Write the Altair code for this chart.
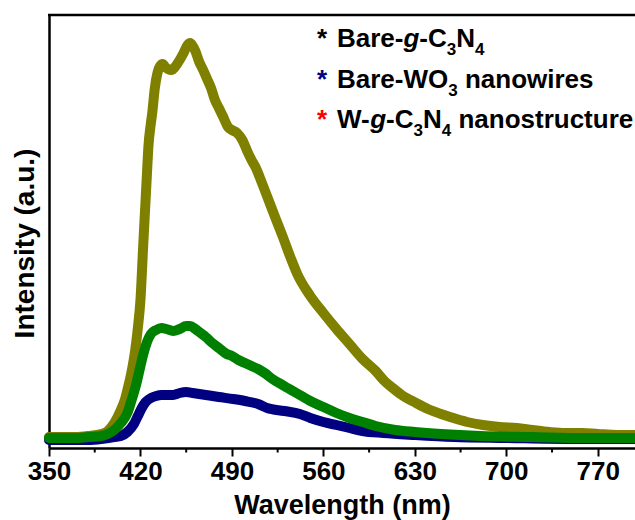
import altair as alt
import pandas as pd

# ---- data (arbitrary intensity units) ----
olive_nm = [350, 360, 370, 380, 390, 395, 400, 405, 408, 410, 413, 416, 418, 420, 422, 424, 425,
            426, 428, 429, 431, 433, 435, 437, 439, 441, 444, 447, 450, 453, 456, 458, 460, 462,
            465, 468, 471, 474, 477, 480, 483, 487, 490, 494, 498, 502, 505, 508, 513, 518, 523,
            529, 535, 540, 550, 560, 570, 580, 590, 600, 606, 615, 620, 631, 640, 650, 657, 670,
            682, 695, 708, 720, 733, 745, 758, 770, 785, 800]
olive_val = [11, 11, 11, 12, 14, 17, 25, 38, 48, 58, 75, 98, 120, 148, 200, 250, 275,
             300, 325, 335, 360, 375, 382, 384, 381, 379, 378, 382, 388, 395, 403, 405, 402, 397,
             386, 378, 369, 360, 348, 340, 332, 321, 318, 315, 308, 296, 288, 281, 265, 248, 231,
             211, 190, 174, 152, 135, 119, 104, 89, 77, 68, 58, 53, 45, 39, 34, 31, 26,
             23, 21, 20, 18, 16, 15, 15, 14, 13, 13]

navy_nm = [350, 360, 370, 380, 390, 400, 405, 410, 415, 418, 421, 424, 428, 432, 436, 440, 445,
           450, 455, 460, 470, 480, 491, 500, 510, 517, 530, 542, 550, 560, 570, 580, 590, 606,
           630, 660, 700, 750, 800]
navy_val = [8, 8, 8, 8, 9, 11, 12, 16, 24, 32, 40, 46, 50, 52, 53, 53, 53,
            55, 56, 55, 53, 51, 49, 47, 44, 40, 37, 34, 30, 26, 23, 20, 17, 15,
            13, 11, 10, 9, 9]

green_nm = [350, 360, 370, 380, 390, 395, 400, 405, 410, 413, 417, 420, 422, 425, 428, 432, 436,
            440, 445, 450, 455, 458, 462, 466, 470, 475, 480, 486, 490, 495, 500, 505, 510, 515,
            521, 530, 542, 550, 560, 570, 580, 590, 600, 615, 630, 650, 680, 720, 760, 800]
green_val = [10, 10, 10, 11, 12, 14, 18, 25, 35, 47, 65, 82, 93, 106, 114, 118, 120,
             119, 117, 119, 122, 122, 119, 115, 111, 105, 100, 94, 92, 88, 85, 82, 79, 75,
             69, 62, 53, 47, 41, 35, 30, 26, 22, 18, 16, 14, 12, 11, 10, 10]

series_names = ["Bare-g-C3N4", "Bare-WO3 nanowires", "W-g-C3N4 nanostructure"]
series_colors = ["#808000", "#000080", "#008000"]
x_ticks = [350, 420, 490, 560, 630, 700, 770]
x_minor = [385, 455, 525, 595, 665, 735]

FONT = "Liberation Sans"
W, H = 586, 433

xscale = alt.Scale(domain=[350, 798.5], nice=False, zero=False)
yscale = alt.Scale(domain=[0, 433], nice=False, zero=False)

XAX = alt.Axis(values=x_ticks, title="Wavelength (nm)", grid=False,
               labelFont=FONT, labelFontSize=26, labelFontWeight="bold", labelColor="black",
               titleFont=FONT, titleFontSize=27, titleFontWeight="bold", titleColor="black",
               tickSize=8, tickWidth=2, tickColor="black", domainColor="black", domainWidth=2.5,
               labelPadding=2, titlePadding=8, labelFlush=False, labelOverlap=False)
YAX = alt.Axis(labels=False, ticks=False, grid=False, title="Intensity (a.u.)",
               titleFont=FONT, titleFontSize=28, titleFontWeight="bold", titleColor="black",
               domainColor="black", domainWidth=2.5, titlePadding=10, titleY=228)


def make_df(nm, val, name):
    return pd.DataFrame({"wl": nm, "val": val, "series": name})


def line_layer(df, color):
    return alt.Chart(df).mark_line(
        color=color, strokeWidth=10, interpolate="monotone", strokeCap="round", strokeJoin="round"
    ).encode(
        x=alt.X("wl:Q", scale=xscale, axis=XAX),
        y=alt.Y("val:Q", scale=yscale, axis=YAX),
    )


layers = [
    line_layer(make_df(olive_nm, olive_val, series_names[0]), series_colors[0]),
    line_layer(make_df(navy_nm, navy_val, series_names[1]), series_colors[1]),
    line_layer(make_df(green_nm, green_val, series_names[2]), series_colors[2]),
]

# minor ticks on the x axis
minor = alt.Chart(pd.DataFrame({"wl": x_minor})).mark_rule(color="black", strokeWidth=2).encode(
    x=alt.X("wl:Q", scale=xscale, axis=XAX), y=alt.value(H), y2=alt.value(H + 4.5))
layers.append(minor)

# top frame line
dummy = pd.DataFrame({"a": [0]})
top = alt.Chart(dummy).mark_rule(color="black", strokeWidth=2.5).encode(
    x=alt.value(-1), x2=alt.value(W + 2), y=alt.value(0))
layers.append(top)

# ---- legend built from text segments (sub/italic styling) ----
AW = {" ": 278, "*": 389, "-": 333, "3": 556, "4": 556, "B": 722, "C": 722, "N": 722, "O": 778,
      "W": 944, "a": 556, "c": 556, "e": 556, "g": 611, "i": 278, "n": 611, "o": 611, "r": 389,
      "s": 556, "t": 333, "u": 611, "w": 778}
MAIN, SUB = 26, 17
legend_lines = [
    [("Bare-", "n"), ("g", "i"), ("-C", "n"), ("3", "s"), ("N", "n"), ("4", "s")],
    [("Bare-WO", "n"), ("3", "s"), (" nanowires", "n")],
    [("W-", "n"), ("g", "i"), ("-C", "n"), ("3", "s"), ("N", "n"), ("4", "s"), (" nanostructure", "n")],
]
star_colors = ["black", "#000080", "red"]
x0_star, x0_text = 317 - 49, 337 - 49
baselines = [47 - 15, 88 - 15, 128 - 15]

for li, segs in enumerate(legend_lines):
    by = baselines[li]
    layers.append(alt.Chart(dummy).mark_text(
        text="*", font=FONT, fontSize=MAIN, fontWeight="bold", color=star_colors[li],
        align="left", baseline="alphabetic").encode(x=alt.value(x0_star), y=alt.value(by)))
    cx = x0_text
    for txt, sty in segs:
        size = SUB if sty == "s" else MAIN
        yy = by + 8 if sty == "s" else by
        lead = len(txt) - len(txt.lstrip(" "))
        cx += lead * AW[" "] * size / 1000.0
        shown = txt.strip(" ")
        layers.append(alt.Chart(dummy).mark_text(
            text=shown, font=FONT, fontSize=size, fontWeight="bold",
            fontStyle="italic" if sty == "i" else "normal", color="black",
            align="left", baseline="alphabetic").encode(x=alt.value(cx), y=alt.value(yy)))
        cx += sum(AW.get(ch, 556) for ch in shown) * size / 1000.0

chart = alt.layer(*layers).properties(
    width=W, height=H,
    autosize=alt.AutoSizeParams(type="none"),
    padding={"left": 49, "top": 15, "right": 0, "bottom": 72},
).configure_view(stroke=None).configure(background="white")

chart.save("out.html", embed_options={"renderer": "svg", "actions": False})
